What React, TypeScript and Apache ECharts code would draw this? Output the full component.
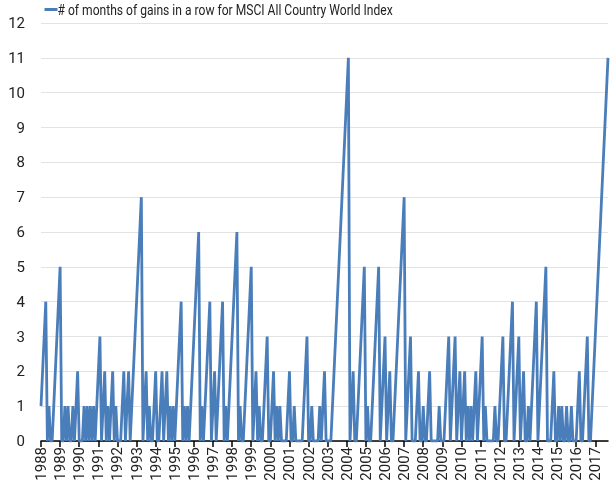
import React, { useEffect, useRef } from "react";
import * as echarts from "echarts";

// Consecutive monthly gains, Jan 1988 .. Sep 2017
const y1988 = [1, 2, 3, 4, 0, 1, 0, 0, 1, 2, 3, 4];
const y1989 = [5, 0, 0, 1, 0, 1, 0, 0, 1, 0, 1, 2];
const y1990 = [0, 0, 0, 1, 0, 1, 0, 1, 0, 1, 0, 1];
const y1991 = [2, 3, 0, 1, 2, 0, 1, 0, 1, 2, 0, 1];
const y1992 = [0, 0, 0, 1, 2, 0, 1, 2, 0, 1, 2, 3];
const y1993 = [4, 5, 6, 7, 0, 1, 2, 0, 1, 0, 0, 1];
const y1994 = [2, 0, 0, 1, 2, 0, 1, 2, 0, 1, 0, 1];
const y1995 = [0, 1, 2, 3, 4, 0, 1, 0, 1, 0, 1, 2];
const y1996 = [3, 4, 5, 6, 0, 1, 0, 1, 2, 3, 4, 0];
const y1997 = [1, 2, 0, 1, 2, 3, 4, 0, 1, 0, 1, 2];
const y1998 = [3, 4, 5, 6, 0, 1, 0, 0, 1, 2, 3, 4];
const y1999 = [5, 0, 1, 2, 0, 1, 0, 0, 1, 2, 3, 0];
const y2000 = [0, 1, 2, 0, 1, 0, 1, 0, 0, 0, 0, 1];
const y2001 = [2, 0, 0, 1, 0, 0, 0, 0, 0, 1, 2, 3];
const y2002 = [0, 0, 1, 0, 0, 0, 0, 1, 0, 1, 2, 0];
const y2003 = [0, 0, 0, 1, 2, 3, 4, 5, 6, 7, 8, 9];
const y2004 = [10, 11, 0, 1, 2, 0, 0, 1, 2, 3, 4, 5];
const y2005 = [0, 1, 0, 0, 1, 2, 3, 4, 5, 0, 1, 2];
const y2006 = [3, 0, 1, 2, 0, 0, 1, 2, 3, 4, 5, 6];
const y2007 = [7, 0, 1, 2, 3, 0, 0, 0, 1, 2, 0, 0];
const y2008 = [1, 0, 0, 1, 2, 0, 0, 0, 0, 0, 1, 0];
const y2009 = [0, 0, 1, 2, 3, 0, 1, 2, 3, 0, 1, 2];
const y2010 = [0, 1, 2, 0, 1, 0, 1, 0, 1, 2, 0, 1];
const y2011 = [2, 3, 0, 1, 0, 0, 0, 0, 0, 1, 0, 0];
const y2012 = [1, 2, 3, 0, 0, 1, 2, 3, 4, 0, 1, 2];
const y2013 = [3, 0, 1, 2, 0, 0, 1, 0, 1, 2, 3, 4];
const y2014 = [0, 1, 2, 3, 4, 5, 0, 0, 0, 1, 2, 0];
const y2015 = [0, 1, 0, 1, 0, 0, 1, 0, 0, 1, 0, 0];
const y2016 = [0, 1, 2, 0, 0, 1, 2, 3, 0, 0, 1, 2];
const y2017 = [3, 4, 5, 6, 7, 8, 9, 10, 11];

const yearly = [
  y1988, y1989, y1990, y1991, y1992, y1993, y1994, y1995, y1996, y1997,
  y1998, y1999, y2000, y2001, y2002, y2003, y2004, y2005, y2006, y2007,
  y2008, y2009, y2010, y2011, y2012, y2013, y2014, y2015, y2016, y2017,
];
const firstYear = 1988;
const seriesName = "# of months of gains in a row for MSCI All Country World Index";

const values: number[] = [];
const categories: string[] = [];
yearly.forEach((arr, i) => {
  arr.forEach((v, m) => {
    values.push(v);
    categories.push(`${firstYear + i}-${String(m + 1).padStart(2, "0")}`);
  });
});

const FONT = "Roboto, 'Liberation Sans', sans-serif";
const BLUE = "#4a7ebb";

export default function App() {
  const ref = useRef<HTMLDivElement>(null);
  useEffect(() => {
    if (!ref.current) return;
    const chart = echarts.init(ref.current, undefined, { renderer: "svg" });
    chart.setOption({
      animation: false,
      textStyle: { fontFamily: FONT },
      legend: { show: false },
      graphic: [
        {
          type: "group",
          left: 42,
          top: 2,
          children: [
            {
              type: "line",
              shape: { x1: 0, y1: 8, x2: 13, y2: 8 },
              style: { stroke: BLUE, lineWidth: 3 },
            },
            {
              type: "text",
              x: 13,
              y: 8,
              scaleX: 0.807,
              style: {
                text: seriesName,
                fontFamily: FONT,
                fontSize: 15,
                fill: "#222",
                align: "left",
                verticalAlign: "middle",
              },
            },
          ],
        },
      ],
      grid: { left: 41, right: 8, top: 23, bottom: 48, containLabel: false },
      xAxis: {
        type: "category",
        data: categories,
        boundaryGap: false,
        axisLine: { show: true, lineStyle: { color: "#000", width: 1.5 } },
        axisTick: {
          show: true,
          length: 6,
          lineStyle: { color: "#000", width: 1.5 },
          interval: (idx: number) => idx % 12 === 0,
        },
        axisLabel: {
          rotate: 90,
          margin: 6,
          fontFamily: FONT,
          fontSize: 15,
          color: "#222",
          interval: (idx: number) => idx % 12 === 0,
          formatter: (v: string) => v.slice(0, 4),
        },
        splitLine: { show: false },
      },
      yAxis: {
        type: "value",
        min: 0,
        max: 12,
        interval: 1,
        axisLine: { show: false },
        axisTick: { show: false },
        axisLabel: { fontFamily: FONT, fontSize: 15, color: "#222", margin: 16 },
        splitLine: { lineStyle: { color: "#e3e3e3", width: 1 } },
      },
      series: [
        {
          name: seriesName,
          type: "line",
          data: values,
          symbol: "none",
          lineStyle: { color: BLUE, width: 2.8 },
          itemStyle: { color: BLUE },
        },
      ],
    });
    return () => chart.dispose();
  }, []);
  return (
    <div
      ref={ref}
      style={{ position: "fixed", left: 0, top: 0, width: 616, height: 489 }}
    />
  );
}
